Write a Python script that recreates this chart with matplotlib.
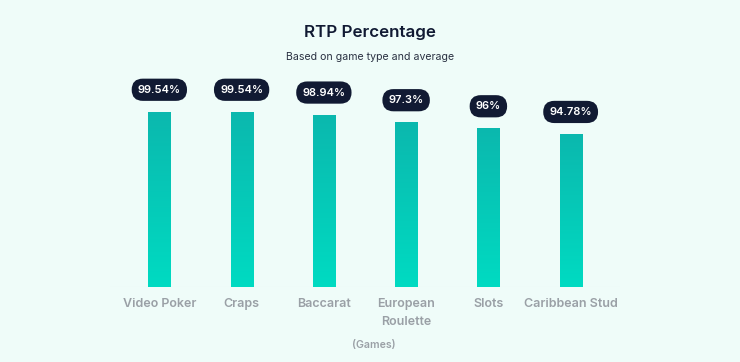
import matplotlib
matplotlib.use("Agg")
import matplotlib.pyplot as plt
import numpy as np
from matplotlib.colors import LinearSegmentedColormap

games = ["Video Poker", "Craps", "Baccarat", "European\nRoulette", "Slots", "Caribbean Stud"]
rtp = [99.54, 99.54, 98.94, 97.3, 96, 94.78]
labels = ["99.54%", "99.54%", "98.94%", "97.3%", "96%", "94.78%"]

BG = "#effcf9"
plt.rcParams['font.family'] = ['Inter', 'DejaVu Sans']

fig = plt.figure(figsize=(7.4, 3.62), dpi=100, facecolor=BG)
W, H = 740, 362
left_px, right_px, top_px, bot_px = 110, 620, 80, 287
ax = fig.add_axes([left_px / W, 1 - bot_px / H, (right_px - left_px) / W, (bot_px - top_px) / H])
ax.set_facecolor(BG)

x = np.arange(len(games))
ymin, ymax = 62, 106.4

cmap = LinearSegmentedColormap.from_list("g", ["#00dbc2", "#0bb8ae"])
grad = np.linspace(0, 1, 256).reshape(-1, 1)

bars = ax.bar(x, [v - ymin for v in rtp], bottom=ymin, width=0.27, color="none", edgecolor="none")
for b, v, lab in zip(bars, rtp, labels):
    im = ax.imshow(grad, cmap=cmap, aspect="auto", origin="lower",
                   extent=[b.get_x(), b.get_x() + b.get_width(), ymin, v], zorder=2)
    im.set_clip_path(b)
    ax.annotate(lab, (b.get_x() + b.get_width() / 2, v), xytext=(0, 16), textcoords="offset points",
                ha="center", va="center", color="white", fontsize=8, fontweight="semibold",
                bbox=dict(boxstyle="round,pad=0.55,rounding_size=1.0", fc="#111a33", ec="none"))
ax.set_xlim(-0.6, len(games) - 0.4)
ax.set_ylim(ymin, ymax)

ax.axhline(ymin, color="#e3efed", lw=0.8, zorder=1)
ax.set_xticks(x)
ax.set_xticklabels(games, fontsize=9, color="#9aa0a6", fontweight="semibold", linespacing=1.6)
ax.tick_params(axis="x", length=0, pad=8)
ax.set_yticks([])
for s in ax.spines.values():
    s.set_visible(False)

fig.text(0.5, 1 - 33 / H, "RTP Percentage", ha="center", va="center", fontsize=12.2,
         fontweight="semibold", color="#111a33")
fig.text(0.5, 1 - 57 / H, "Based on game type and average", ha="center", va="center",
         fontsize=7.6, color="#2a3142")
fig.text(0.505, 1 - 345 / H, "(Games)", ha="center", va="center", fontsize=7.6,
         color="#9aa0a6", fontweight="semibold")

fig.savefig("out.png", dpi=100, facecolor=BG)
